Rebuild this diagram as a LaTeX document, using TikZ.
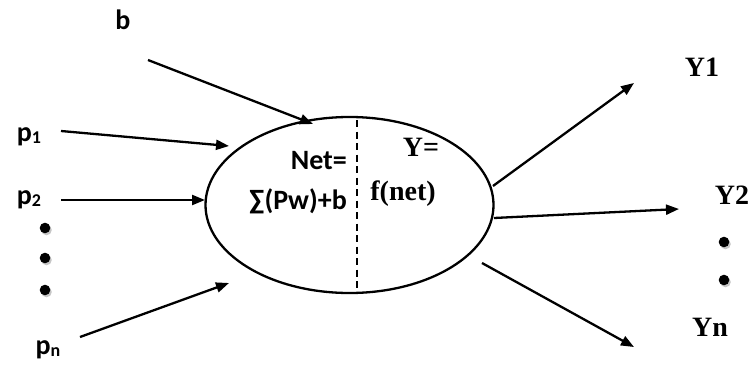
\documentclass[tikz,border=0pt]{standalone}
\usepackage{fontspec}
\setmainfont{Liberation Serif}
\newfontfamily\calib{Carlito}
\usetikzlibrary{arrows.meta,shapes.geometric}
\tikzset{
  conn/.style={line width=2.3pt,-{Triangle[length=13pt,width=10pt]}},
  sanslbl/.style={font=\calib\bfseries\fontsize{28}{32}\selectfont,inner sep=0pt},
  seriflbl/.style={font=\bfseries\fontsize{28}{32}\selectfont,inner sep=0pt}
}
\newcommand{\shdot}[2]{\fill[gray!45] (#1+1.5,#2+2) circle[radius=5.3pt];\fill[black] (#1,#2) circle[radius=5.3pt];}
\newcommand{\mysub}[1]{\raisebox{-2pt}{\fontsize{18}{20}\selectfont #1}}
\begin{document}
\begin{tikzpicture}[x=1pt,y=-1pt]
\useasboundingbox (0,0) rectangle (752,369);
% neuron
\node[ellipse,draw,line width=2.3pt,minimum width=288pt,minimum height=176pt,inner sep=0pt] (neuron) at (349.5,205) {};
\coordinate (dtop) at (357,120);
\coordinate (dbot) at (357,290);
\draw[line width=2.3pt,dash pattern=on 7pt off 4.5pt] (dtop) -- (dbot);
% texts inside
\node[sanslbl,anchor=east] (net) at (347,161) {Net=};
\node[sanslbl,anchor=east] (sum) at (347,201) {∑(Pw)+b};
\node[seriflbl] (yeq) at (421,147) {Y=};
\node[seriflbl] (fnet) at (403,194) {f(net)};
% input labels
\node[sanslbl] (b) at (123,20) {b};
\node[sanslbl] (p1) at (29,137) {p\mysub{1}};
\node[sanslbl] (p2) at (29,200) {p\mysub{2}};
\node[sanslbl] (pn) at (48,350) {p\mysub{n}};
\shdot{45}{228}
\shdot{45}{258}
\shdot{45}{290}
% input arrows
\coordinate (bs) at (148,60);   \coordinate (be) at (313,124);
\coordinate (p1s) at (61,131);  \coordinate (p1e) at (229,146);
\coordinate (p2s) at (61,200);  \coordinate (p2e) at (205,200);
\coordinate (pns) at (80,337);  \coordinate (pne) at (229,283);
\draw[conn] (bs) -- (be);
\draw[conn] (p1s) -- (p1e);
\draw[conn] (p2s) -- (p2e);
\draw[conn] (pns) -- (pne);
% outputs
\node[seriflbl] (y1) at (702,67) {Y1};
\node[seriflbl] (y2) at (732,195) {Y2};
\node[seriflbl] (yn) at (710,327) {Yn};
\shdot{724}{242}
\shdot{724}{280}
\coordinate (o1s) at (493,186); \coordinate (o1e) at (634,83);
\coordinate (o2s) at (494,218); \coordinate (o2e) at (679,209);
\coordinate (ons) at (482,263); \coordinate (one) at (634,347);
\draw[conn] (o1s) -- (o1e);
\draw[conn] (o2s) -- (o2e);
\draw[conn] (ons) -- (one);
\end{tikzpicture}
\end{document}
